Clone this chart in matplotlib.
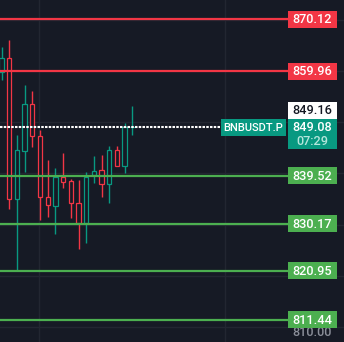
import numpy as np
import matplotlib
matplotlib.use('Agg')
import matplotlib.pyplot as plt
from matplotlib.patches import Rectangle
import matplotlib.transforms as mtransforms

# ---- data ----
opens  = [859.78, 862.45, 834.93, 844.42, 853.47, 847.29, 835.38, 833.68, 839.23,
          838.45, 834.15, 830.25, 839.62, 840.59, 837.86, 844.50, 841.37, 848.95]
closes = [862.51, 834.93, 844.50, 853.47, 847.29, 835.32, 833.76, 839.28, 838.37,
          834.15, 830.25, 839.34, 840.51, 837.86, 844.50, 841.37, 848.99, 849.08]
highs  = [864.66, 866.02, 847.48, 857.24, 856.07, 848.46, 842.60, 841.10, 844.03,
          838.84, 838.70, 840.26, 843.38, 843.58, 845.34, 845.34, 849.82, 853.14]
lows   = [858.22, 833.04, 820.84, 840.32, 845.20, 830.89, 831.54, 828.16, 837.20,
          831.34, 825.17, 826.46, 838.17, 835.44, 834.15, 841.37, 840.12, 847.54]

level_prices = [870.12, 859.96, 839.52, 830.17, 820.95, 811.44]
level_kinds  = ['red', 'red', 'green', 'green', 'green', 'green']
last_price = 849.08
mark_price = 849.16
symbol = 'BNBUSDT.P'
countdown = '07:29'
grid_prices = [810, 820, 830, 840, 850, 860, 870]
hidden_axis_label = '810.00'

# ---- style ----
BG = '#161a25'
UP = '#089981'
DOWN = '#f23645'
LVL = {'red': '#f23645', 'green': '#4caf50'}
GRID = '#222631'
FONT = ['Roboto', 'DejaVu Sans']
plt.rcParams['font.family'] = FONT

W, H = 344, 342
fig = plt.figure(figsize=(W / 100, H / 100), dpi=100)
ax = fig.add_axes([0, 0, 1, 1])
fig.patch.set_facecolor(BG)
ax.set_facecolor(BG)

step_px, x0_px = 7.7, 1.5
xmin = -x0_px / step_px
xmax = xmin + W / step_px
ymax, ymin = 873.83, 807.08
ax.set_xlim(xmin, xmax)
ax.set_ylim(ymin, ymax)
upp = (ymax - ymin) / H  # price units per pixel

for s in ax.spines.values():
    s.set_visible(False)
ax.set_yticks(grid_prices)
ax.set_xticks([4.9, 29.0])
ax.grid(True, color=GRID, lw=1.0, zorder=0)
ax.tick_params(length=0, labelleft=False, labelbottom=False)
ax.set_axisbelow(True)

# ---- candles ----
bw = 4.4 / step_px
for i, (o, h, l, c) in enumerate(zip(opens, highs, lows, closes)):
    col = UP if c >= o else DOWN
    ax.vlines(i, l, h, color=col, lw=1.0, zorder=2)
    lo, hi = min(o, c), max(o, c)
    ax.add_patch(Rectangle((i - bw / 2, lo), bw, max(hi - lo, 0.05),
                           facecolor=BG, edgecolor=col, lw=0.9, zorder=3))

# ---- levels ----
pane_right = 287 / W
for p, k in zip(level_prices, level_kinds):
    ax.axhline(p, xmin=0, xmax=pane_right, color=LVL[k], lw=1.6, zorder=4)

ax.axhline(last_price, xmin=0, xmax=220 / W, color='white', lw=1.5,
           ls=(0, (1.2, 0.6)), zorder=5)

trans = mtransforms.blended_transform_factory(ax.transAxes, ax.transData)
FS = 9.2


def box(x0, x1, ytop, ybot, color):
    ax.add_patch(Rectangle((x0 / W, ybot), (x1 - x0) / W, ytop - ybot,
                           transform=trans, facecolor=color, edgecolor='none',
                           zorder=6, clip_on=False))


def txt(xc, y, s, color, size=FS, z=7):
    ax.text(xc / W, y, s, transform=trans, ha='center', va='center',
            color=color, fontsize=size, zorder=z, family=FONT, weight='medium')


LX0, LX1 = 288, 337
# grid-axis label mostly hidden behind the 811.44 label
txt((LX0 + LX1) / 2, 810 - 5.5 * upp, hidden_axis_label, '#8a8e99', z=5)

for p, k in zip(level_prices, level_kinds):
    box(LX0, LX1, p + 8.5 * upp, p - 8.5 * upp, LVL[k])
    txt((LX0 + LX1) / 2, p - 0.4 * upp, f'{p:.2f}', 'white')

# last price labels
gtop = last_price + 8 * upp
box(LX0, LX1, gtop, gtop - 30.6 * upp, UP)
txt((LX0 + LX1) / 2, last_price - 0.8 * upp, f'{last_price:.2f}', 'white')
txt((LX0 + LX1) / 2, last_price - 14.5 * upp, countdown, '#b5e6dc')
box(LX0, LX1, gtop + 16.4 * upp, gtop, 'white')
txt((LX0 + LX1) / 2, gtop + 8.0 * upp, f'{mark_price:.2f}', '#131722')

# symbol label
box(220.7, 286, last_price + 7.6 * upp, last_price - 8.8 * upp, UP)
txt((220.7 + 286) / 2, last_price - 0.8 * upp, symbol, 'white', size=8.0)

fig.savefig('out.png', dpi=100, facecolor=BG)
